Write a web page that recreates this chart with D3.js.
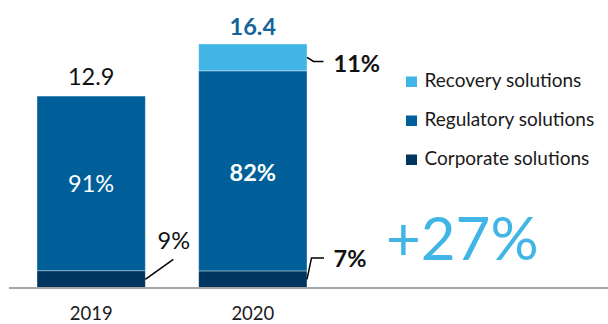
<!DOCTYPE html>
<html>
<head>
<meta charset="utf-8">
<script src="https://cdn.jsdelivr.net/npm/d3@7"></script>
<style>
  html, body { margin: 0; padding: 0; background: #ffffff; }
  svg { display: block; font-family: Lato, "Open Sans", sans-serif; }
</style>
</head>
<body>
<svg id="chart" width="608" height="324"></svg>
<script>
// Revenue by business line (totals and segment shares, %)
const years = ["2019", "2020"];
const totals = [12.9, 16.4];
const corporateShare = [9, 7];
const regulatoryShare = [91, 82];
const recoveryShare = [0, 11];
const seriesNames = ["Recovery solutions", "Regulatory solutions", "Corporate solutions"];
const growthLabel = "+27%";

const colors = {
  corporate: "#00355f",
  regulatory: "#005f99",
  recovery: "#41b6e6"
};

const svg = d3.select("#chart");
const W = 608, H = 324;
const baseY = 288;

const x = d3.scaleBand().domain(years).range([37, 307]).paddingInner(0.33).paddingOuter(0);
const y = d3.scaleLinear().domain([0, 16.4]).range([baseY, 44]);

// Stack rows: value of each segment = share × total
const rows = years.map((yr, i) => ({
  year: yr,
  total: totals[i],
  corporate: totals[i] * corporateShare[i] / 100,
  regulatory: totals[i] * regulatoryShare[i] / 100,
  recovery: totals[i] * recoveryShare[i] / 100
}));
const keys = ["corporate", "regulatory", "recovery"];
const stacked = d3.stack().keys(keys)(rows);

const barsG = svg.append("g");
stacked.forEach(layer => {
  barsG.selectAll(null)
    .data(layer.filter(d => d[1] - d[0] > 0))
    .join("rect")
    .attr("x", d => x(d.data.year))
    .attr("width", x.bandwidth())
    .attr("y", d => y(d[1]))
    .attr("height", d => y(d[0]) - y(d[1]))
    .attr("fill", colors[layer.key])
    .attr("stroke", "rgba(255,255,255,0.45)")
    .attr("stroke-width", 0.8);
});

// Baseline across the plot
svg.append("line")
  .attr("x1", 9).attr("x2", W)
  .attr("y1", baseY).attr("y2", baseY)
  .attr("stroke", "#a6a6a6").attr("stroke-width", 2);

// Category axis
const xAxis = svg.append("g")
  .attr("transform", `translate(0,${baseY})`)
  .call(d3.axisBottom(x).tickSize(0).tickPadding(19));
xAxis.select(".domain").remove();
xAxis.selectAll("text")
  .attr("font-family", "Lato, sans-serif")
  .attr("font-size", 18.5)
  .attr("fill", "#1a1a1a");

const lbl = svg.append("g");
const segMid = (yr, key) => {
  const layer = stacked.find(l => l.key === key);
  const d = layer.find(s => s.data.year === yr);
  return (y(d[0]) + y(d[1])) / 2;
};
const right = yr => x(yr) + x.bandwidth();
const center = yr => x(yr) + x.bandwidth() / 2;

// Totals above bars
lbl.append("text")
  .attr("x", center("2019")).attr("y", y(totals[0]) - 11.5)
  .attr("text-anchor", "middle").attr("font-size", 23.5).attr("fill", "#111")
  .text(totals[0].toFixed(1));
lbl.append("text")
  .attr("x", center("2020")).attr("y", y(totals[1]) - 9)
  .attr("text-anchor", "middle").attr("font-size", 23.5).attr("font-weight", 700)
  .attr("fill", "#15639b")
  .text(totals[1].toFixed(1));

// Regulatory share inside bars
lbl.append("text")
  .attr("x", center("2019")).attr("y", segMid("2019", "regulatory") + 9)
  .attr("text-anchor", "middle").attr("font-size", 23.5).attr("fill", "#ffffff")
  .text(regulatoryShare[0] + "%");
lbl.append("text")
  .attr("x", center("2020")).attr("y", segMid("2020", "regulatory") + 10)
  .attr("text-anchor", "middle").attr("font-size", 23.5).attr("font-weight", 700)
  .attr("fill", "#ffffff")
  .text(regulatoryShare[1] + "%");

// Leader-line callouts for small segments
const line = d3.line();
const c19 = segMid("2019", "corporate");
lbl.append("path")
  .attr("d", line([[right("2019"), c19], [right("2019") + 28, c19 - 20]]))
  .attr("fill", "none").attr("stroke", "#000").attr("stroke-width", 1.5);
lbl.append("text")
  .attr("x", right("2019") + 28.5).attr("y", c19 - 30.5)
  .attr("text-anchor", "middle").attr("font-size", 23.5).attr("fill", "#111")
  .text(corporateShare[0] + "%");

const c20 = segMid("2020", "corporate");
lbl.append("path")
  .attr("d", line([[right("2020"), c20], [right("2020") + 4.5, c20 - 21.5], [right("2020") + 17, c20 - 21.5]]))
  .attr("fill", "none").attr("stroke", "#000").attr("stroke-width", 1.5);
lbl.append("text")
  .attr("x", right("2020") + 26.5).attr("y", c20 - 12.8)
  .attr("font-size", 23.5).attr("font-weight", 700).attr("fill", "#111")
  .text(corporateShare[1] + "%");

const r20 = segMid("2020", "recovery");
lbl.append("path")
  .attr("d", line([[right("2020"), r20], [right("2020") + 6.5, r20 + 4], [right("2020") + 16.5, r20 + 4]]))
  .attr("fill", "none").attr("stroke", "#000").attr("stroke-width", 1.5);
lbl.append("text")
  .attr("x", right("2020") + 26.5).attr("y", r20 + 14.3)
  .attr("font-size", 23.5).attr("font-weight", 700).attr("fill", "#111")
  .text(recoveryShare[1] + "%");

// Legend
const legendColors = [colors.recovery, colors.regulatory, colors.corporate];
const legend = svg.append("g").attr("transform", "translate(406,76.5)");
const items = legend.selectAll("g").data(seriesNames).join("g")
  .attr("transform", (d, i) => `translate(0,${i * 39})`);
items.append("rect").attr("width", 11).attr("height", 10.5)
  .attr("fill", (d, i) => legendColors[i]);
items.append("text").attr("x", 18.5).attr("y", 10.5)
  .attr("font-size", 19).attr("fill", "#1a1a1a")
  .text(d => d);

// Growth annotation
svg.append("text")
  .attr("x", 386).attr("y", 260)
  .attr("font-size", 60).attr("fill", "#41b6e6")
  .text(growthLabel);
</script>
</body>
</html>
